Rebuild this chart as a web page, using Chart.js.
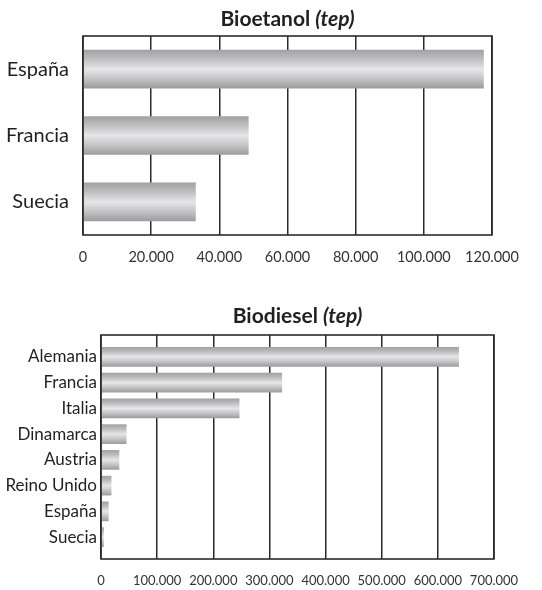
<!DOCTYPE html>
<html>
<head>
<meta charset="utf-8">
<script src="https://cdn.jsdelivr.net/npm/chart.js@4.4.1/dist/chart.umd.min.js"></script>
<style>
  html, body { margin: 0; padding: 0; background: #fff; }
  .box { position: absolute; left: 0; width: 542px; }
  #top { top: 0; height: 280px; }
  #bottom { top: 290px; height: 300px; }
</style>
</head>
<body>
<div class="box" id="top"><canvas id="bioetanol"></canvas></div>
<div class="box" id="bottom"><canvas id="biodiesel"></canvas></div>
<script>
  // Bioetanol (tep)
  const bioetanolPaises = ['España', 'Francia', 'Suecia'];
  const bioetanolTep = [117500, 48500, 33000];
  const bioetanolTicks = [0, 20000, 40000, 60000, 80000, 100000, 120000];

  // Biodiesel (tep)
  const biodieselPaises = ['Alemania', 'Francia', 'Italia', 'Dinamarca', 'Austria', 'Reino Unido', 'España', 'Suecia'];
  const biodieselTep = [637000, 322000, 246000, 45000, 32000, 18000, 13000, 4500];
  const biodieselTicks = [0, 100000, 200000, 300000, 400000, 500000, 600000, 700000];

  Chart.defaults.font.family = 'Lato, "Open Sans", sans-serif';
  Chart.defaults.color = '#231f20';

  // 120000 -> "120.000"
  const fmt = (v) => String(v).replace(/\B(?=(\d{3})+(?!\d))/g, '.');

  // grey cylinder look for the bars
  function cylinder(thickness) {
    return (ctx) => {
      const chart = ctx.chart;
      const y = chart.scales.y;
      if (!chart.chartArea || !y || ctx.dataIndex === undefined) return '#c4c4c6';
      const c = y.getPixelForValue(ctx.dataIndex);
      const g = chart.ctx.createLinearGradient(0, c - thickness / 2, 0, c + thickness / 2);
      g.addColorStop(0, '#a2a2a5');
      g.addColorStop(0.22, '#bcbcbf');
      g.addColorStop(0.5, '#e6e6e8');
      g.addColorStop(0.78, '#c0c0c3');
      g.addColorStop(1, '#9d9da0');
      return g;
    };
  }

  // title with italic unit + frame round the plot
  const titleFrame = {
    id: 'titleFrame',
    afterDraw(chart, args, opts) {
      const { ctx, chartArea } = chart;
      ctx.save();
      ctx.strokeStyle = '#2b2b2b';
      ctx.lineWidth = 1.6;
      ctx.strokeRect(chartArea.left, chartArea.top, chartArea.right - chartArea.left, chartArea.bottom - chartArea.top);
      const bold = 'bold ' + opts.size + 'px Lato';
      const ital = 'italic bold ' + opts.size + 'px Lato';
      ctx.font = bold;
      const w1 = ctx.measureText(opts.text).width;
      ctx.font = ital;
      const w2 = ctx.measureText(opts.unit).width;
      const x = (chartArea.left + chartArea.right) / 2 - (w1 + w2) / 2;
      ctx.fillStyle = '#231f20';
      ctx.textBaseline = 'alphabetic';
      ctx.font = bold;
      ctx.fillText(opts.text, x, opts.y);
      ctx.font = ital;
      ctx.fillText(opts.unit, x + w1, opts.y);
      ctx.restore();
    }
  };

  function makeChart(id, labels, values, ticks, cfg) {
    return new Chart(document.getElementById(id), {
      type: 'bar',
      data: {
        labels: labels,
        datasets: [{
          data: values,
          backgroundColor: cylinder(cfg.bar),
          borderWidth: 0,
          barThickness: cfg.bar
        }]
      },
      plugins: [titleFrame],
      options: {
        indexAxis: 'y',
        responsive: true,
        maintainAspectRatio: false,
        animation: false,
        layout: { padding: { top: cfg.top, right: cfg.right, bottom: 0, left: 0 } },
        plugins: {
          legend: { display: false },
          tooltip: { enabled: false },
          titleFrame: { text: cfg.title, unit: '(tep)', size: 21, y: cfg.titleY }
        },
        scales: {
          x: {
            min: ticks[0],
            max: ticks[ticks.length - 1],
            afterBuildTicks: (s) => { s.ticks = ticks.map(v => ({ value: v })); },
            afterFit: (s) => { s.height = cfg.xh; },
            grid: { color: '#2b2b2b', lineWidth: 1.5, drawTicks: false },
            border: { display: false },
            ticks: { callback: fmt, padding: cfg.xpad, font: { size: cfg.xfont }, color: '#333' }
          },
          y: {
            afterFit: (s) => { s.width = cfg.yw; },
            afterBuildTicks: (s) => {
              if (cfg.spread) {
                s._startValue = -cfg.spread;
                s._valueRange = labels.length - 1 + 2 * cfg.spread;
              }
            },
            grid: { display: false, drawTicks: false },
            border: { display: false },
            ticks: { padding: cfg.ypad, font: { size: cfg.yfont } }
          }
        }
      }
    });
  }

  makeChart('bioetanol', bioetanolPaises, bioetanolTep, bioetanolTicks, {
    title: 'Bioetanol ', titleY: 26, bar: 38, top: 36, right: 50, xh: 45, yw: 83,
    xpad: 14, xfont: 14.5, ypad: 14, yfont: 20, spread: 0
  });

  makeChart('biodiesel', biodieselPaises, biodieselTep, biodieselTicks, {
    title: 'Biodiesel ', titleY: 33, bar: 19, top: 45, right: 48, xh: 31, yw: 101,
    xpad: 14, xfont: 13, ypad: 4, yfont: 17, spread: 0.85
  });
</script>
</body>
</html>
